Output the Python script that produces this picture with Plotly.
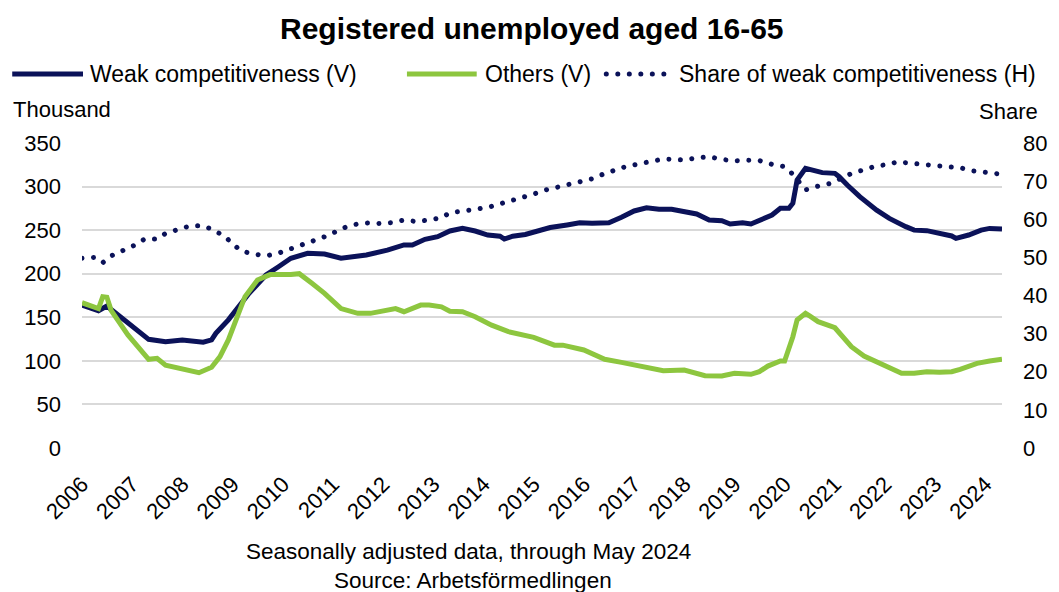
import plotly.graph_objects as go

# Registered unemployed, weak competitiveness (thousand, left axis)
weak_dates = ["2006-01", "2006-05", "2006-07", "2006-12", "2007-05", "2007-09", "2008-01",
              "2008-06", "2008-08", "2008-09", "2008-12", "2009-05", "2009-09", "2009-12",
              "2010-03", "2010-07", "2010-11", "2011-03", "2011-09", "2012-02", "2012-06",
              "2012-08", "2012-11", "2013-02", "2013-05", "2013-08", "2013-11", "2014-02",
              "2014-05", "2014-06", "2014-08", "2014-11", "2015-02", "2015-05", "2015-09",
              "2015-12", "2016-03", "2016-07", "2016-10", "2017-01", "2017-04", "2017-07",
              "2017-10", "2017-12", "2018-04", "2018-07", "2018-10", "2018-12", "2019-03",
              "2019-05", "2019-07", "2019-10", "2019-12", "2020-02", "2020-03", "2020-04",
              "2020-06", "2020-07", "2020-10", "2021-01", "2021-02", "2021-04", "2021-07",
              "2021-11", "2022-02", "2022-06", "2022-08", "2022-11", "2023-01", "2023-05",
              "2023-06", "2023-09", "2023-12", "2024-02", "2024-05"]
weak_values = [164, 157.6, 163, 143.8, 124.7, 122, 124,
               121.5, 124, 131.6, 147, 177.5, 198.5, 208,
               217.7, 223.4, 222.6, 217.7, 221.5, 227, 233,
               233, 239.5, 242.5, 249, 252, 249, 244.4,
               243, 239.8, 243, 245, 249, 253, 256,
               258.5, 257.8, 258.5, 264.7, 272, 275.7, 273.9,
               273.9, 272.3, 268.5, 261.6, 260.8, 257, 258.5,
               257, 260.8, 267.4, 275, 275, 280.8, 307.5,
               321, 319.8, 316, 315.2, 311.3, 301.8, 288.4,
               273, 263.5, 254, 250, 249.4, 247, 243.3,
               240.6, 244.4, 250, 252, 251.3]

# Registered unemployed, others (thousand, left axis)
others_dates = ["2006-01", "2006-03", "2006-05", "2006-06", "2006-07", "2006-08", "2006-12",
                "2007-05", "2007-07", "2007-09", "2008-01", "2008-05", "2008-08", "2008-10",
                "2008-12", "2009-04", "2009-07", "2009-10", "2010-03", "2010-05", "2010-08",
                "2010-11", "2011-03", "2011-07", "2011-10", "2012-02", "2012-04", "2012-06",
                "2012-10", "2012-12", "2013-03", "2013-05", "2013-08", "2013-11", "2014-03",
                "2014-07", "2014-11", "2015-01", "2015-06", "2015-08", "2016-01", "2016-06",
                "2016-10", "2017-03", "2017-06", "2017-08", "2018-01", "2018-03", "2018-06",
                "2018-10", "2019-01", "2019-05", "2019-07", "2019-09", "2019-12", "2020-01",
                "2020-03", "2020-04", "2020-06", "2020-07", "2020-09", "2021-01", "2021-03",
                "2021-05", "2021-08", "2021-12", "2022-03", "2022-05", "2022-08", "2022-11",
                "2023-02", "2023-05", "2023-07", "2023-11", "2024-02", "2024-05"]
others_values = [166.7, 163, 160, 173.6, 173, 158, 129.7,
                 101.8, 103, 95, 91.4, 86.4, 92.6, 104.8,
                 124, 173.6, 192.8, 199, 199, 200, 189,
                 177.5, 160, 154.5, 154.5, 159, 160, 156.4,
                 164, 164, 162, 157, 156.4, 150.7, 141,
                 133.5, 129.7, 127, 118, 118, 112.5, 101.8,
                 98.3, 94, 90.3, 88.7, 89.5, 86.9, 83,
                 82.6, 85.7, 84.6, 87.6, 94, 99.8, 99.8,
                 127.7, 146.9, 154.5, 151.5, 145, 138, 127.7,
                 116.2, 105.6, 97.2, 89.5, 85.7, 85.7, 87.6,
                 86.9, 87.6, 90.3, 97.2, 99.8, 101.8]

# Share of weak competitiveness (percent, right axis)
share_dates = ["2006-01", "2006-04", "2006-06", "2006-08", "2006-11", "2007-02", "2007-04",
               "2007-07", "2007-09", "2007-12", "2008-03", "2008-06", "2008-08", "2008-11",
               "2009-01", "2009-03", "2009-06", "2009-09", "2009-12", "2010-03", "2010-05",
               "2010-08", "2010-11", "2011-02", "2011-04", "2011-07", "2011-10", "2011-12",
               "2012-03", "2012-06", "2012-09", "2012-12", "2013-03", "2013-05", "2013-08",
               "2013-11", "2014-02", "2014-05", "2014-08", "2014-10", "2015-01", "2015-04",
               "2015-07", "2015-09", "2015-12", "2016-03", "2016-06", "2016-08", "2016-11",
               "2017-02", "2017-05", "2017-08", "2017-11", "2018-01", "2018-04", "2018-07",
               "2018-10", "2019-01", "2019-04", "2019-07", "2019-10", "2020-01", "2020-03",
               "2020-06", "2020-09", "2020-12", "2021-05", "2021-08", "2021-11", "2022-02",
               "2022-04", "2022-07", "2022-10", "2023-01", "2023-04", "2023-07", "2023-10",
               "2024-01", "2024-05"]
share_values = [49.8, 50.0, 48.6, 50.4, 51.9, 53.4, 54.8,
                54.8, 56.3, 57.4, 58.3, 58.3, 57.4, 55.6,
                53.4, 51.7, 50.9, 50.4, 51.1, 52.2, 53.1,
                54.3, 55.4, 56.9, 57.9, 58.8, 59.1, 58.9,
                59.1, 59.8, 59.4, 59.8, 60.4, 61.7, 62.0,
                62.6, 63.1, 64.0, 64.9, 65.7, 66.6, 67.7,
                68.4, 69.2, 69.7, 70.6, 72.0, 72.7, 73.8,
                74.5, 75.3, 75.8, 75.7, 75.5, 76.1, 76.4,
                75.7, 75.3, 75.5, 75.4, 74.4, 73.8, 71.8,
                67.7, 68.7, 69.4, 72.0, 73.1, 74.0, 74.4,
                75.1, 74.7, 74.4, 74.0, 73.8, 73.5, 72.7,
                72.2, 71.8]

years = list(range(2006, 2025))
year_labels = [str(y) for y in years]

NAVY = "#0b1259"
GREEN = "#8dc63f"
GRID = "#d9d9d9"
FONT = "Liberation Sans, Arial, sans-serif"
DOTTED = "5px,6.5px"

W, H = 1059, 592
L, R, T, B = 82, 54, 143, 144
PW, PH = W - L - R, H - T - B


def px(x):
    return (x - L) / PW


def py(y):
    return (H - B - y) / PH


fig = go.Figure()
fig.add_trace(go.Scatter(x=share_dates, y=share_values, yaxis="y2", mode="lines",
                         line=dict(color=NAVY, width=5, dash=DOTTED),
                         name="Share of weak competitiveness (H)"))
fig.add_trace(go.Scatter(x=weak_dates, y=weak_values, mode="lines",
                         line=dict(color=NAVY, width=5),
                         name="Weak competitiveness (V)"))
fig.add_trace(go.Scatter(x=others_dates, y=others_values, mode="lines",
                         line=dict(color=GREEN, width=5),
                         name="Others (V)"))

fig.update_layout(
    width=W, height=H,
    margin=dict(l=L, r=R, t=T, b=B, pad=0),
    paper_bgcolor="white", plot_bgcolor="white",
    showlegend=False,
    font=dict(family=FONT, size=22, color="#000000"),
    xaxis=dict(type="date", range=["2006-01-01", "2024-05-01"],
               tickvals=[f"{y}-01-01" for y in years], ticktext=year_labels,
               tickangle=-45, showgrid=False, zeroline=False, showline=False,
               ticks="", ticklabelstandoff=18, tickfont=dict(size=22)),
    yaxis=dict(range=[0, 350], dtick=50, tick0=0, showgrid=True, gridcolor=GRID,
               gridwidth=1.5, zeroline=False, showline=False, ticks="",
               ticklabelstandoff=20, tickfont=dict(size=22)),
    yaxis2=dict(range=[0, 80], dtick=10, tick0=0, overlaying="y", side="right",
                showgrid=False, zeroline=False, showline=False, ticks="",
                ticklabelstandoff=20, tickfont=dict(size=22)),
)

annotations = [
    dict(text="<b>Registered unemployed aged 16-65</b>", x=px(533), y=py(28),
         xanchor="center", yanchor="middle", font=dict(size=30)),
    dict(text="Thousand", x=px(11), y=py(109), xanchor="left", yanchor="middle"),
    dict(text="Share", x=px(1043), y=py(112), xanchor="right", yanchor="middle"),
    dict(text="Seasonally adjusted data, through May 2024", x=px(470), y=py(551),
         xanchor="center", yanchor="middle", font=dict(size=22.5)),
    dict(text="Source: Arbetsförmedlingen", x=px(474), y=py(580),
         xanchor="center", yanchor="middle", font=dict(size=22.5)),
    dict(text="Weak competitiveness (V)", x=px(88), y=py(74), xanchor="left",
         yanchor="middle", font=dict(size=23)),
    dict(text="Others (V)", x=px(484), y=py(74), xanchor="left", yanchor="middle",
         font=dict(size=23)),
    dict(text="Share of weak competitiveness (H)", x=px(679), y=py(74),
         xanchor="left", yanchor="middle", font=dict(size=23)),
]
for a in annotations:
    a.update(xref="paper", yref="paper", showarrow=False)
fig.update_layout(annotations=annotations)

# legend samples
legend_keys = [
    (12, 83, dict(color=NAVY, width=5)),
    (408, 478, dict(color=GREEN, width=5)),
    (608, 673, dict(color=NAVY, width=5, dash=DOTTED)),
]
for x0, x1, ln in legend_keys:
    fig.add_shape(type="line", xref="paper", yref="paper",
                  x0=px(x0), x1=px(x1), y0=py(74), y1=py(74), line=ln)

# round dots for the dotted series and its legend key
round_dots = """
var gd = document.getElementById('{plot_id}');
gd.querySelectorAll('path').forEach(function (p) {
  var d = p.style.strokeDasharray || '';
  if (d.indexOf('6.5') >= 0) {
    p.style.strokeLinecap = 'round';
    p.style.strokeDasharray = '0.01px, 11.5px';
  }
});
"""

fig.write_html("out.html", post_script=round_dots)
